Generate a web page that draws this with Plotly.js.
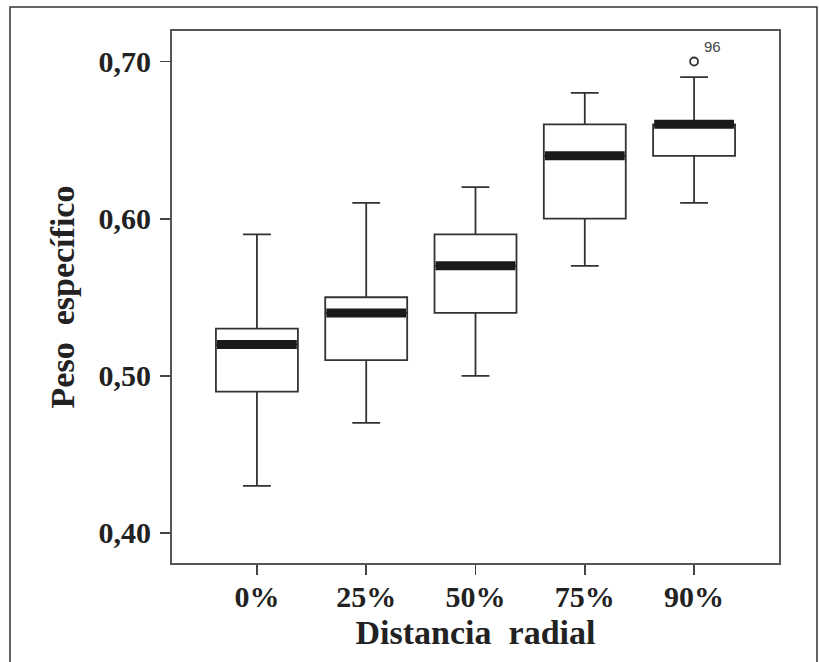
<!DOCTYPE html>
<html>
<head>
<meta charset="utf-8">
<script src="https://cdn.plot.ly/plotly-3.0.1.min.js"></script>
<style>html,body{margin:0;padding:0;background:#fff;}#chart{width:819px;height:662px;}</style>
</head>
<body>
<div id="chart"></div>
<script>
// Data
var categories = ['0%', '25%', '50%', '75%', '90%'];
var positions = [0, 1, 2, 3, 4];
var lowerWhisker = [0.43, 0.47, 0.50, 0.57, 0.61];
var q1Values = [0.49, 0.51, 0.54, 0.60, 0.64];
var medianValues = [0.52, 0.54, 0.57, 0.64, 0.66];
var q3Values = [0.53, 0.55, 0.59, 0.66, 0.66];
var upperWhisker = [0.59, 0.61, 0.62, 0.68, 0.69];
var outlierPos = [4];
var outlierValues = [0.70];
var outlierLabels = ['96'];
var yTickValues = [0.40, 0.50, 0.60, 0.70];
var yTickLabels = ['0,40', '0,50', '0,60', '0,70'];

var boxWidth = 0.75;

var boxTrace = {
  type: 'box',
  x: positions,
  q1: q1Values,
  median: medianValues,
  q3: q3Values,
  lowerfence: lowerWhisker,
  upperfence: upperWhisker,
  width: boxWidth,
  whiskerwidth: 0.34,
  fillcolor: '#ffffff',
  line: {color: '#333333', width: 1.8},
  boxpoints: false,
  hoverinfo: 'skip',
  showlegend: false
};

// Thick median bars
var medX = [], medY = [];
for (var i = 0; i < positions.length; i++) {
  medX.push(positions[i] - boxWidth / 2 + 0.01, positions[i] + boxWidth / 2 - 0.01, null);
  medY.push(medianValues[i], medianValues[i], null);
}
var medianTrace = {
  type: 'scatter', mode: 'lines',
  x: medX, y: medY,
  line: {color: '#1a1a1a', width: 9},
  hoverinfo: 'skip', showlegend: false
};

var outlierTrace = {
  type: 'scatter', mode: 'markers',
  x: outlierPos, y: outlierValues,
  marker: {symbol: 'circle-open', size: 8, color: '#333333', line: {width: 1.8, color: '#333333'}},
  hoverinfo: 'skip', showlegend: false
};

var annotations = [];
for (var k = 0; k < outlierPos.length; k++) {
  annotations.push({
    x: outlierPos[k], y: outlierValues[k], xref: 'x', yref: 'y',
    text: outlierLabels[k], showarrow: false,
    xshift: 18, yshift: 15,
    font: {family: 'Liberation Sans, Arial, sans-serif', size: 15, color: '#444444'}
  });
}

var serif = 'Liberation Serif, Times New Roman, serif';

var layout = {
  width: 819, height: 662,
  margin: {l: 172, r: 40, t: 31, b: 99},
  paper_bgcolor: '#ffffff',
  plot_bgcolor: '#ffffff',
  showlegend: false,
  xaxis: {
    range: [-0.777, 4.777],
    tickmode: 'array', tickvals: positions, ticktext: categories,
    ticks: 'outside', ticklen: 10, tickwidth: 1.8, tickcolor: '#444',
    ticklabelstandoff: -4,
    showline: true, linecolor: '#555', linewidth: 2, mirror: true,
    showgrid: false, zeroline: false,
    tickfont: {family: serif, size: 30, color: '#222', weight: 'bold'},
    title: {text: 'Distancia  radial', standoff: 8,
      font: {family: serif, size: 34, color: '#222', weight: 'bold'}}
  },
  yaxis: {
    range: [0.3809, 0.7194],
    tickmode: 'array', tickvals: yTickValues, ticktext: yTickLabels,
    ticks: 'outside', ticklen: 10, tickwidth: 1.8, tickcolor: '#444',
    ticklabelstandoff: 3,
    showline: true, linecolor: '#555', linewidth: 2, mirror: true,
    showgrid: false, zeroline: false,
    tickfont: {family: serif, size: 30, color: '#222', weight: 'bold'},
    title: {text: 'Peso  específico', standoff: 14,
      font: {family: serif, size: 34, color: '#222', weight: 'bold'}}
  },
  shapes: [{
    type: 'rect', xref: 'paper', yref: 'paper',
    x0: -0.2669, x1: 1.0626, y0: -0.3, y1: 1.0451,
    line: {color: '#333333', width: 1.5}, layer: 'below'
  }],
  annotations: annotations
};

Plotly.newPlot('chart', [boxTrace, medianTrace, outlierTrace], layout, {displayModeBar: false, staticPlot: true});
</script>
</body>
</html>
